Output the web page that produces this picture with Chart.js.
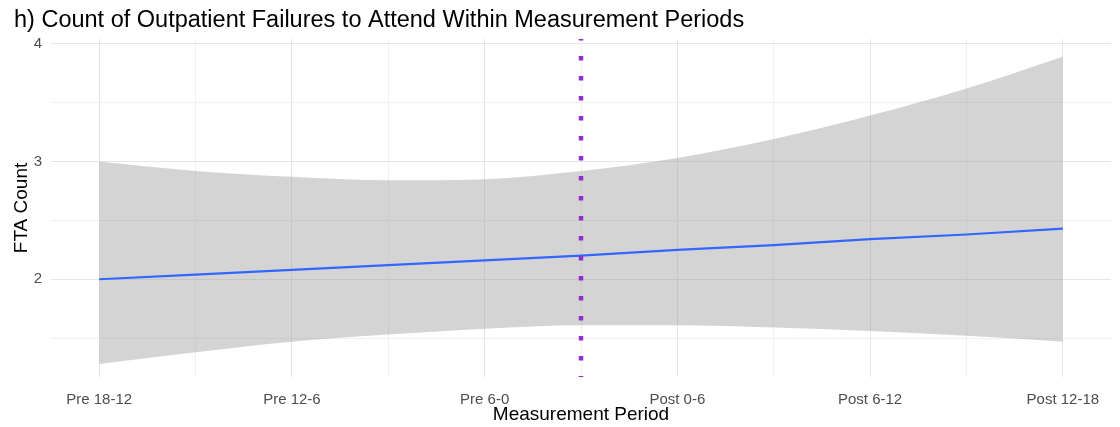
<!DOCTYPE html>
<html>
<head>
<meta charset="utf-8">
<script src="https://cdn.jsdelivr.net/npm/chart.js@4.4.1/dist/chart.umd.min.js"></script>
<style>
  html, body { margin: 0; padding: 0; background: #ffffff; }
  #wrap { width: 1120px; height: 427px; }
</style>
</head>
<body>
<div id="wrap"><canvas id="c" width="1120" height="427"></canvas></div>
<script>
// ---- data ----
const categories = ["Pre 18-12", "Pre 12-6", "Pre 6-0", "Post 0-6", "Post 6-12", "Post 12-18"];
const xPositions = [0, 0.5, 1, 1.5, 2, 2.5, 3, 3.5, 4, 4.5, 5];
const fitValues  = [2.00, 2.04, 2.08, 2.12, 2.16, 2.20, 2.25, 2.29, 2.34, 2.38, 2.43];
const upperCI    = [3.00, 2.92, 2.87, 2.84, 2.85, 2.92, 3.03, 3.19, 3.39, 3.62, 3.89];
const lowerCI    = [1.28, 1.38, 1.47, 1.53, 1.58, 1.61, 1.61, 1.59, 1.56, 1.52, 1.47];
const interventionX = 2.5;
const yTickValues = [1.5, 2, 2.5, 3, 3.5, 4];
const yTickLabels = { 2: "2", 3: "3", 4: "4" };
const xTickValues = [0, 0.5, 1, 1.5, 2, 2.5, 3, 3.5, 4, 4.5, 5];
const titleText = "h) Count of Outpatient Failures to Attend Within Measurement Periods";
const xTitle = "Measurement Period";
const yTitle = "FTA Count";

const Y_MIN = 1.17, Y_MAX = 4.04;
const X_MIN = -0.25, X_MAX = 5.25;

const pts = (ys) => xPositions.map((x, i) => ({ x: x, y: ys[i] }));
const FONT = "'Liberation Sans', Arial, Helvetica, sans-serif";

const gridColor = (ctx) => {
  const v = ctx.tick ? ctx.tick.value : 0;
  return Number.isInteger(v) ? '#E6E6E6' : '#F0F0F0';
};

new Chart(document.getElementById('c'), {
  type: 'line',
  data: {
    datasets: [
      {
        label: 'intervention',
        data: [{ x: interventionX, y: Y_MAX }, { x: interventionX, y: Y_MIN }],
        borderColor: '#9030C8',
        borderWidth: 4.5,
        borderDash: [4.5, 15.5],
        borderDashOffset: 3,
        borderCapStyle: 'butt',
        pointRadius: 0,
        fill: false,
        order: 0
      },
      {
        label: 'fit',
        data: pts(fitValues),
        borderColor: '#3366FF',
        borderWidth: 2.2,
        pointRadius: 0,
        fill: false,
        tension: 0,
        order: 1
      },
      {
        label: 'upper',
        data: pts(upperCI),
        borderWidth: 0,
        borderColor: 'rgba(0,0,0,0)',
        backgroundColor: 'rgba(153,153,153,0.42)',
        pointRadius: 0,
        fill: '+1',
        cubicInterpolationMode: 'monotone',
        order: 2
      },
      {
        label: 'lower',
        data: pts(lowerCI),
        borderWidth: 0,
        borderColor: 'rgba(0,0,0,0)',
        pointRadius: 0,
        fill: false,
        cubicInterpolationMode: 'monotone',
        order: 3
      }
    ]
  },
  options: {
    responsive: false,
    animation: false,
    layout: { padding: { left: 14, right: 9, top: 0, bottom: 0 } },
    plugins: {
      legend: { display: false },
      tooltip: { enabled: false },
      title: {
        display: true,
        text: titleText,
        align: 'start',
        color: '#000000',
        font: { family: FONT, size: 23.5, weight: 'normal' },
        padding: { top: 6, bottom: 4.8 }
      }
    },
    scales: {
      x: {
        type: 'linear',
        min: X_MIN,
        max: X_MAX,
        border: { display: false },
        grid: { color: gridColor, lineWidth: 1, drawTicks: false },
        afterBuildTicks: (s) => { s.ticks = xTickValues.map(v => ({ value: v })); },
        afterFit: (s) => { s.height = 50; },
        ticks: {
          autoSkip: false,
          maxRotation: 0,
          padding: 14,
          color: '#4D4D4D',
          font: { family: FONT, size: 15 },
          callback: (v) => Number.isInteger(v) ? categories[v] : ''
        },
        title: {
          display: true,
          text: xTitle,
          color: '#000000',
          font: { family: FONT, size: 19 },
          padding: { top: 0, bottom: 0.5 }
        }
      },
      y: {
        type: 'linear',
        min: Y_MIN,
        max: Y_MAX,
        border: { display: false },
        grid: { color: gridColor, lineWidth: 1, drawTicks: false },
        afterBuildTicks: (s) => { s.ticks = yTickValues.map(v => ({ value: v })); },
        afterFit: (s) => { s.width = 37; },
        ticks: {
          padding: 9,
          color: '#4D4D4D',
          font: { family: FONT, size: 15 },
          callback: (v) => yTickLabels[v] !== undefined ? yTickLabels[v] : ''
        },
        title: {
          display: true,
          text: yTitle,
          color: '#000000',
          font: { family: FONT, size: 19 },
          padding: { top: -4, bottom: 0 }
        }
      }
    }
  }
});
</script>
</body>
</html>
